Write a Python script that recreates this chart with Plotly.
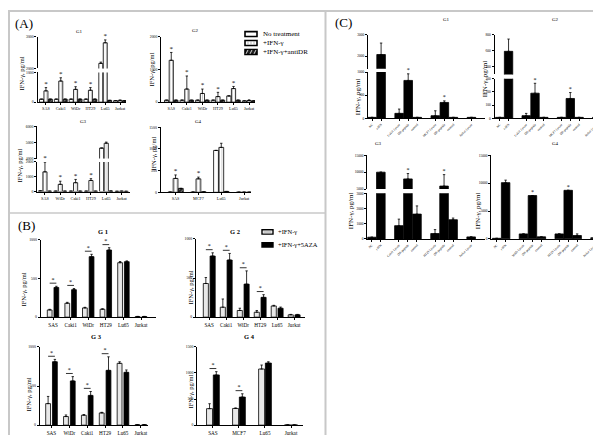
import numpy as np
import plotly.graph_objects as go

W, H = 601, 435
SERIF = "Liberation Serif"

# ---------------- data ----------------
# (A) IFN-gamma secretion, three treatments
A1_cells = ["SAS", "Caki1", "WiDr", "HT29", "Lu65", "Jurkat"]
A1_nt = [100, 100, 100, 100, 2160, 50]
A1_nt_err = [0, 0, 0, 0, 40, 0]
A1_ifn = [380, 710, 430, 400, 2810, 60]
A1_ifn_err = [110, 110, 90, 90, 90, 10]
A1_dr = [100, 100, 100, 100, 60, 50]
A1_star = [1, 1, 1, 1, 1, 0]

A2_cells = ["SAS", "Caki1", "WiDr", "HT29", "Lu65", "Jurkat"]
A2_nt = [60, 60, 60, 60, 190, 40]
A2_ifn = [1280, 400, 265, 170, 415, 50]
A2_ifn_err = [240, 400, 135, 130, 65, 20]
A2_dr = [60, 60, 60, 60, 60, 40]
A2_star = [1, 1, 1, 1, 1, 0]

A3_cells = ["SAS", "WiDr", "Caki1", "HT29", "Lu65", "Jurkat"]
A3_nt = [50, 30, 30, 30, 4650, 20]
A3_ifn = [1330, 490, 600, 750, 4950, 30]
A3_ifn_err = [650, 210, 220, 120, 70, 0]
A3_dr = [30, 30, 30, 30, 40, 20]
A3_star = [1, 1, 1, 1, 0, 0]

A4_cells = ["SAS", "MCF7", "Lu65", "Jurkat"]
A4_nt = [5, 5, 965, 3]
A4_ifn = [320, 310, 1035, 3]
A4_ifn_err = [80, 40, 95, 0]
A4_dr = [90, 10, 20, 3]
A4_star = [1, 1, 0, 0]

A_legend = ["No treatment", "+IFN-γ", "+IFN-γ+antiDR"]

# (B) +IFN-gamma vs +IFN-gamma+5AZA
B1_cells = ["SAS", "Caki1", "WiDr", "HT29", "Lu65", "Jurkat"]
B1_ifn = [93, 179, 119, 102, 702, 8]
B1_ifn_err = [8, 12, 8, 6, 15, 2]
B1_aza = [383, 354, 780, 865, 715, 8]
B1_aza_err = [15, 15, 30, 30, 10, 2]
B1_star = [1, 1, 1, 1, 0, 0]

B2_cells = ["SAS", "Caki1", "WiDr", "HT29", "Lu65", "Jurkat"]
B2_ifn = [430, 127, 85, 63, 143, 30]
B2_ifn_err = [76, 105, 29, 22, 8, 5]
B2_aza = [781, 730, 422, 253, 114, 30]
B2_aza_err = [41, 84, 169, 34, 15, 5]
B2_star = [1, 1, 1, 1, 0, 0]

B3_cells = ["SAS", "WiDr", "Caki1", "HT29", "Lu65", "Jurkat"]
B3_ifn = [275, 110, 127, 156, 790, 5]
B3_ifn_err = [92, 20, 8, 8, 20, 1]
B3_aza = [810, 565, 380, 700, 675, 5]
B3_aza_err = [30, 55, 50, 173, 30, 1]
B3_star = [1, 1, 1, 1, 0, 0]

B4_cells = ["SAS", "MCF7", "Lu65", "Jurkat"]
B4_ifn = [316, 320, 1076, 5]
B4_ifn_err = [95, 10, 76, 1]
B4_aza = [962, 538, 1190, 5]
B4_aza_err = [63, 63, 25, 1]
B4_star = [1, 1, 0, 0]

B_legend = ["+IFN-γ", "+IFN-γ+5AZA"]

# (C) stimulation conditions (groups separated by a gap)
C1_labels = [["NC", "r-IFN"], ["Caki1 Lysate", "DR-peptide", "control"],
             ["MCF7 Lysate", "DR-peptide", "control"], ["Jurkat Lysate"]]
C1_vals = [20, 2070, 107, 820, 20, 56, 343, 20, 20]
C1_err = [0, 540, 93, 143, 0, 107, 34, 0, 0]
C1_star = [0, 0, 0, 1, 0, 0, 1, 0, 0]

C2_labels = [["NC", "r-IFN"], ["Caki1 Lysate", "DR-peptide", "control"],
             ["MCF7 Lysate", "DR-peptide", "control"], ["Jurkat Lysate"]]
C2_vals = [7, 591, 20, 190, 7, 7, 150, 7, 7]
C2_err = [0, 155, 17, 75, 0, 0, 45, 0, 0]
C2_star = [0, 0, 0, 1, 0, 0, 1, 0, 0]

C3_labels = [["NC", "r-IFN"], ["Caki1 Lysate", "DR-peptide", "control"],
             ["HT29 Lysate", "DR-peptide", "control"], ["Jurkat Lysate"]]
C3_vals = [110, 10000, 870, 8000, 1630, 350, 5880, 1260, 130]
C3_err = [0, 0, 430, 1600, 540, 260, 3400, 110, 0]
C3_star = [0, 0, 0, 1, 0, 0, 1, 0, 0]

C4_labels = [["NC", "r-IFN"], ["WiDr Lysate", "DR-peptide", "control"],
             ["HT29 Lysate", "DR-peptide", "control"], ["Jurkat Lysate"]]
C4_vals = [100, 10100, 890, 7780, 360, 890, 8720, 600, 200]
C4_err = [0, 450, 0, 0, 0, 0, 0, 290, 0]
C4_star = [0, 0, 0, 1, 0, 0, 1, 0, 0]

YTITLE = "IFN-γ, pg/ml"

# ---------------- styles ----------------
EDGE = dict(color="black", width=0.8)
ST_NT = dict(color="white", line=EDGE)
ST_IFN_A = dict(color="white", line=EDGE,
                pattern=dict(shape="|", fgcolor="#8a8a8a", bgcolor="white", size=2.5, solidity=0.35))
ST_DR = dict(color="#222222", line=EDGE,
             pattern=dict(shape="/", fgcolor="white", bgcolor="#222222", size=3, solidity=0.3))
ST_IFN_B = dict(color="white", line=EDGE,
                pattern=dict(shape="-", fgcolor="#8a8a8a", bgcolor="white", size=2, solidity=0.4))
ST_BLACK = dict(color="black", line=dict(color="black", width=0.8))

fig = go.Figure()
layout = {}
shapes = []
annotations = []
n_ax = [0]


def new_axes(left, right, top, bottom, xr, yr, yticks, base, tickvals, ticktext,
             xfont, xangle, yfont):
    n_ax[0] += 1
    s = "" if n_ax[0] == 1 else str(n_ax[0])
    layout["xaxis" + s] = dict(
        domain=[left / W, right / W], range=xr, anchor="y" + s, visible=base,
        showline=True, linecolor="black", linewidth=1.3, ticks="outside", ticklen=2,
        tickwidth=1, tickcolor="black", tickvals=tickvals, ticktext=ticktext,
        tickfont=dict(family=SERIF, size=xfont, color="black"), tickangle=xangle,
        showgrid=False, zeroline=False, fixedrange=True)
    layout["yaxis" + s] = dict(
        domain=[1 - bottom / H, 1 - top / H], range=yr, anchor="x" + s,
        showline=True, linecolor="black", linewidth=1.3, ticks="outside", ticklen=2,
        tickwidth=1, tickcolor="black", tickvals=yticks, tickformat="d",
        tickfont=dict(family=SERIF, size=yfont, color="black"),
        showgrid=False, zeroline=False, fixedrange=True)
    return "x" + s, "y" + s


def panel(left, right, segs, xr, tickvals, ticktext, bars, stars=(), brackets=(),
          xfont=4.5, xangle=0, yfont=3.8, star_size=7):
    """segs: list of (top, bottom, yrange, yticks) ordered top -> bottom."""
    for k, (t, b, yr, yt) in enumerate(segs):
        base = k == len(segs) - 1
        xa, ya = new_axes(left, right, t, b, xr, yr, yt, base, tickvals, ticktext,
                          xfont, xangle, yfont)
        for (xs, ys, es, w, mk) in bars:
            fig.add_trace(go.Bar(
                x=xs, y=ys, width=w, marker=mk, xaxis=xa, yaxis=ya, showlegend=False,
                error_y=dict(type="data", array=es, arrayminus=[0] * len(es),
                             symmetric=False, color="black", thickness=0.8, width=1.2)))
        span = yr[1] - yr[0]
        for (sx, sy) in stars:
            px = [x for x, y in zip(sx, sy) if yr[0] <= y <= yr[1]]
            py = [y for y, in zip(sy) if yr[0] <= y <= yr[1]]
            if px:
                fig.add_trace(go.Scatter(
                    x=px, y=py, mode="text", text=["*"] * len(px), textposition="top center",
                    textfont=dict(family=SERIF, size=star_size, color="black"),
                    cliponaxis=False, xaxis=xa, yaxis=ya, showlegend=False, hoverinfo="skip"))
        for (cx, cy, half) in brackets:
            lx, ly, tx, ty = [], [], [], []
            for x, y in zip(cx, cy):
                yy = y + 0.04 * span
                lx += [x - half, x + half, None]
                ly += [yy, yy, None]
                tx.append(x)
                ty.append(yy)
            if cx:
                fig.add_trace(go.Scatter(x=lx, y=ly, mode="lines",
                                         line=dict(color="black", width=0.8),
                                         xaxis=xa, yaxis=ya, showlegend=False,
                                         hoverinfo="skip", cliponaxis=False))
                fig.add_trace(go.Scatter(
                    x=tx, y=ty, mode="text", text=["*"] * len(tx), textposition="top center",
                    textfont=dict(family=SERIF, size=star_size, color="black"),
                    cliponaxis=False, xaxis=xa, yaxis=ya, showlegend=False, hoverinfo="skip"))


def tops(v, e):
    return [a + b for a, b in zip(v, e)]


# ---------- Panel A ----------
def panel_A(left, right, segs, xr, cells, nt, ifn, ifn_err, dr, star, w, sh, nt_err=None):
    idx = np.arange(len(cells))
    z = [0] * len(cells)
    bars = [
        (idx - sh, nt, nt_err if nt_err else z, w, ST_NT),
        (idx, ifn, ifn_err, w, ST_IFN_A),
        (idx + sh, dr, z, w, ST_DR),
    ]
    t = tops(ifn, ifn_err)
    stars = [([i for i in idx if star[i]], [t[i] for i in idx if star[i]])]
    panel(left, right, segs, xr, list(idx), cells, bars, stars=stars, xfont=4.2)


panel_A(29.5, 118, [(27, 59, [2000, 3000], [2000, 3000]), (63, 93, [0, 1000], [0, 1000])],
        [-0.57, 5.4], A1_cells, A1_nt, A1_ifn, A1_ifn_err, A1_dr, A1_star, 0.27, 0.3, A1_nt_err)
panel_A(153.3, 247, [(27, 93, [0, 2000], [0, 1000, 2000])],
        [-0.64, 5.38], A2_cells, A2_nt, A2_ifn, A2_ifn_err, A2_dr, A2_star, 0.27, 0.3)
panel_A(29.3, 122, [(117.3, 150, [4000, 6000], [4000, 5000, 6000]),
                    (153.3, 183.3, [0, 2000], [0, 1000, 2000])],
        [-0.5, 5.55], A3_cells, A3_nt, A3_ifn, A3_ifn_err, A3_dr, A3_star, 0.27, 0.3)
panel_A(152.7, 243, [(118.3, 184, [0, 1500], [0, 500, 1000, 1500])],
        [-0.65, 3.3], A4_cells, A4_nt, A4_ifn, A4_ifn_err, A4_dr, A4_star, 0.21, 0.23)


# ---------- Panel B ----------
def panel_B(left, right, top, bottom, yr, yt, xr, cells, ifn, ifn_err, aza, aza_err, star, w, sh):
    idx = np.arange(len(cells))
    bars = [(idx - sh, ifn, ifn_err, w, ST_IFN_B), (idx + sh, aza, aza_err, w, ST_BLACK)]
    t = [max(a, b) for a, b in zip(tops(ifn, ifn_err), tops(aza, aza_err))]
    br = [([i for i in idx if star[i]], [t[i] for i in idx if star[i]], sh)]
    panel(left, right, [(top, bottom, yr, yt)], xr, list(idx), cells, bars,
          brackets=br, xfont=5.2, yfont=3.8, star_size=6)


panel_B(32.7, 148, 231.7, 310, [0, 1000], [0, 500, 1000], [-0.7, 5.85],
        B1_cells, B1_ifn, B1_ifn_err, B1_aza, B1_aza_err, B1_star, 0.27, 0.19)
panel_B(188, 297, 231, 310, [0, 1000], [0, 500, 1000], [-0.78, 5.64],
        B2_cells, B2_ifn, B2_ifn_err, B2_aza, B2_aza_err, B2_star, 0.3, 0.2)
panel_B(31.7, 140, 340, 419, [0, 1000], [0, 500, 1000], [-0.66, 5.4],
        B3_cells, B3_ifn, B3_ifn_err, B3_aza, B3_aza_err, B3_star, 0.27, 0.19)
panel_B(189.3, 295, 340, 419, [0, 1500], [0, 500, 1000, 1500], [-0.6, 3.46],
        B4_cells, B4_ifn, B4_ifn_err, B4_aza, B4_aza_err, B4_star, 0.23, 0.13)


# ---------- Panel C ----------
def positions(groups):
    pos, lab, p = [], [], 0
    for g in groups:
        for name in g:
            pos.append(p)
            lab.append(name)
            p += 1
        p += 1
    return pos, lab


def panel_C(left, right, segs, xr, groups, vals, err, star, w):
    pos, lab = positions(groups)
    t = tops(vals, err)
    stars = [([pos[i] for i in range(len(pos)) if star[i]],
              [t[i] for i in range(len(pos)) if star[i]])]
    panel(left, right, segs, xr, pos, lab, [(pos, vals, err, w, ST_BLACK)],
          stars=stars, xfont=3.2, xangle=-45, yfont=3.5, star_size=6)


panel_C(360, 477, [(25, 59.3, [1400, 3000], [2000, 3000]),
                   (62.7, 109.3, [0, 1000], [0, 500, 1000])],
        [-0.45, 12.5], C1_labels, C1_vals, C1_err, C1_star, 0.95)
panel_C(486.7, 596.7, [(25, 65, [300, 800], [400, 600, 800]),
                       (69.3, 109.3, [0, 300], [0, 100, 200, 300])],
        [-0.57, 11.9], C2_labels, C2_vals, C2_err, C2_star, 0.95)
panel_C(359.3, 476.7, [(146.7, 180.7, [5000, 15000], [5000, 10000, 15000]),
                       (185, 231, [0, 3000], [0, 1000, 2000, 3000])],
        [-0.5, 12.5], C3_labels, C3_vals, C3_err, C3_star, 0.95)
panel_C(483.3, 593.3, [(146.7, 231, [0, 15000], [0, 5000, 10000, 15000])],
        [-0.6, 11.7], C4_labels, C4_vals, C4_err, C4_star, 0.95)


# ---------- text ----------
def text(x, y, s, size, bold=False, angle=0, xanchor="center"):
    annotations.append(dict(
        x=x / W, y=1 - y / H, xref="paper", yref="paper", text=("<b>%s</b>" % s) if bold else s,
        showarrow=False, textangle=angle, xanchor=xanchor, yanchor="middle",
        font=dict(family=SERIF, size=size, color="black")))


text(16, 14, "(A)", 13)
text(18, 217, "(B)", 13)
text(336, 13, "(C)", 13)

for (x, y, s) in [(71.7, 22, "G1"), (187, 21, "G2"), (75, 113, "G3"), (190, 113, "G4")]:
    text(x, y, s, 5)
for (x, y, s) in [(95, 224, "G 1"), (227, 224, "G 2"), (88, 330, "G 3"), (242, 330, "G 4")]:
    text(x, y, s, 6.5, bold=True)
for (x, y, s) in [(438, 10, "G1"), (547, 10, "G2"), (370, 135, "G3"), (547, 135, "G4")]:
    text(x, y, s, 5)

for (x, y, sz) in [(13, 64, 6.5), (143, 60, 6.5), (12, 157, 6.5), (146, 145, 6.5),
                   (15, 282, 6.5), (182, 280, 6.5), (20, 388, 6.5), (182, 385, 6.5),
                   (350, 88, 7), (477, 70, 7), (343, 203, 7), (470, 203, 7)]:
    text(x, y, YTITLE, sz, angle=-90)


# ---------- legends (drawn swatches) ----------
def rect(x0, y0, x1, y1, fill, line="black", lw=1):
    shapes.append(dict(type="rect", xref="paper", yref="paper",
                       x0=x0 / W, x1=x1 / W, y0=1 - y1 / H, y1=1 - y0 / H,
                       fillcolor=fill, line=dict(color=line, width=lw)))


def seg(x0, y0, x1, y1, color, lw=1):
    shapes.append(dict(type="line", xref="paper", yref="paper",
                       x0=x0 / W, x1=x1 / W, y0=1 - y0 / H, y1=1 - y1 / H,
                       line=dict(color=color, width=lw)))


rows_A = [24.3, 33.3, 42.3]
rect(237, rows_A[0] - 2.5, 249, rows_A[0] + 2.5, "white", lw=1.6)
rect(237, rows_A[1] - 2.5, 249, rows_A[1] + 2.5, "white", lw=1.6)
for xx in [240, 243, 246]:
    seg(xx, rows_A[1] - 1.8, xx, rows_A[1] + 1.8, "#9a9a9a", 0.7)
rect(237, rows_A[2] - 2.5, 249, rows_A[2] + 2.5, "#222222", lw=1.6)
for xx in [240, 244, 248]:
    seg(xx - 2, rows_A[2] + 2, xx, rows_A[2] - 2, "white", 0.8)
for r, s in zip(rows_A, A_legend):
    text(253, r, s, 7, xanchor="left")

rows_B = [224, 237]
rect(254, rows_B[0] - 2.2, 265, rows_B[0] + 2.2, "white", lw=1.4)
for yy in [-1, 0, 1]:
    seg(255.5, rows_B[0] + yy, 263.5, rows_B[0] + yy, "#9a9a9a", 0.6)
rect(254, rows_B[1] - 2.2, 265, rows_B[1] + 2.2, "black", lw=1.4)
for r, s in zip(rows_B, B_legend):
    text(268, r, s, 6.5, xanchor="left")

# ---------- frame and dividers ----------
GRAY = "#c8c8c8"
shapes.append(dict(type="rect", xref="paper", yref="paper", x0=1 / W, x1=(W - 1.5) / W,
                   y0=1.5 / H, y1=1 - 1 / H, line=dict(color=GRAY, width=2),
                   fillcolor="rgba(0,0,0,0)"))
seg(317.5, 0, 317.5, H, GRAY, 2)
seg(0, 205, 317.5, 205, GRAY, 1.5)

fig.update_layout(
    width=W, height=H, margin=dict(l=0, r=0, t=0, b=0),
    paper_bgcolor="white", plot_bgcolor="white", barmode="overlay",
    shapes=shapes, annotations=annotations, showlegend=False, **layout)

fig.write_html("out.html")
